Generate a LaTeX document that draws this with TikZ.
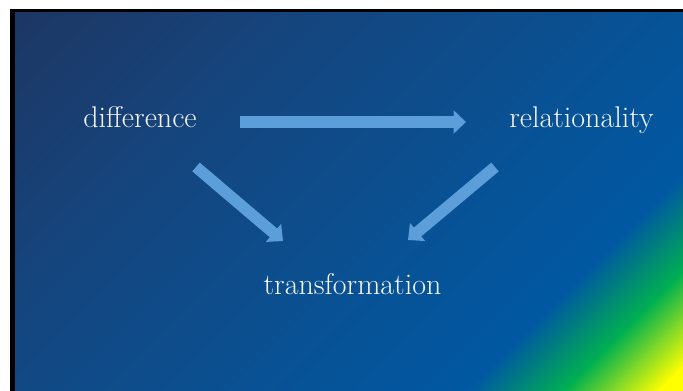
\documentclass[tikz,border=0pt]{standalone}
\usetikzlibrary{arrows.meta}
\definecolor{gA}{RGB}{30,52,95}
\definecolor{gB}{RGB}{22,68,124}
\definecolor{gC}{RGB}{10,80,145}
\definecolor{gD}{RGB}{0,88,162}
\definecolor{gE}{RGB}{0,176,80}
\definecolor{gF}{RGB}{255,255,0}
\definecolor{arrowblue}{RGB}{92,158,218}
\definecolor{textwhite}{RGB}{245,245,245}
\tikzset{
  lbl/.style={text=textwhite, inner sep=0pt, anchor=base, font=\fontsize{30}{36}\selectfont},
  bigarrow/.style={draw=arrowblue, line width=11.5pt, line cap=butt,
    -{Triangle[width=23pt,length=12.5pt]}}
}
\begin{document}
\begin{tikzpicture}[x=1pt,y=1pt]
\useasboundingbox (0,0) rectangle (683,391);
\fill[white] (0,0) rectangle (683,391);
\fill[black] (10,0) rectangle (683,382);
\begin{scope}
  \clip (15,0) rectangle (683,378);
  \begin{scope}[transform canvas={rotate=-45}]
    \shade[left color=gA, right color=gB] (-290,-20) rectangle (-64,780);
    \shade[left color=gB, right color=gC] (-64.5,-20) rectangle (148,780);
    \shade[left color=gC, right color=gD] (147.5,-20) rectangle (330,780);
    \shade[left color=gD, right color=gE] (329.5,-20) rectangle (399,780);
    \shade[left color=gE, right color=gF] (398.5,-20) rectangle (466,780);
    \fill[gF] (465.5,-20) rectangle (520,780);
  \end{scope}
\end{scope}
% labels
\node[lbl] (diff) at (140,263) {difference};
\node[lbl] (rel) at (581.5,263) {relationality};
\node[lbl] (trans) at (352.5,96) {transformation};
% arrow end points
\coordinate (h1) at (240,269);
\coordinate (h2) at (466,269);
\coordinate (l1) at (196,224);
\coordinate (l2) at (283,150);
\coordinate (r1) at (495,224);
\coordinate (r2) at (408,151);
\draw[bigarrow] (h1) -- (h2);
\draw[bigarrow] (l1) -- (l2);
\draw[bigarrow] (r1) -- (r2);
\end{tikzpicture}
\end{document}
